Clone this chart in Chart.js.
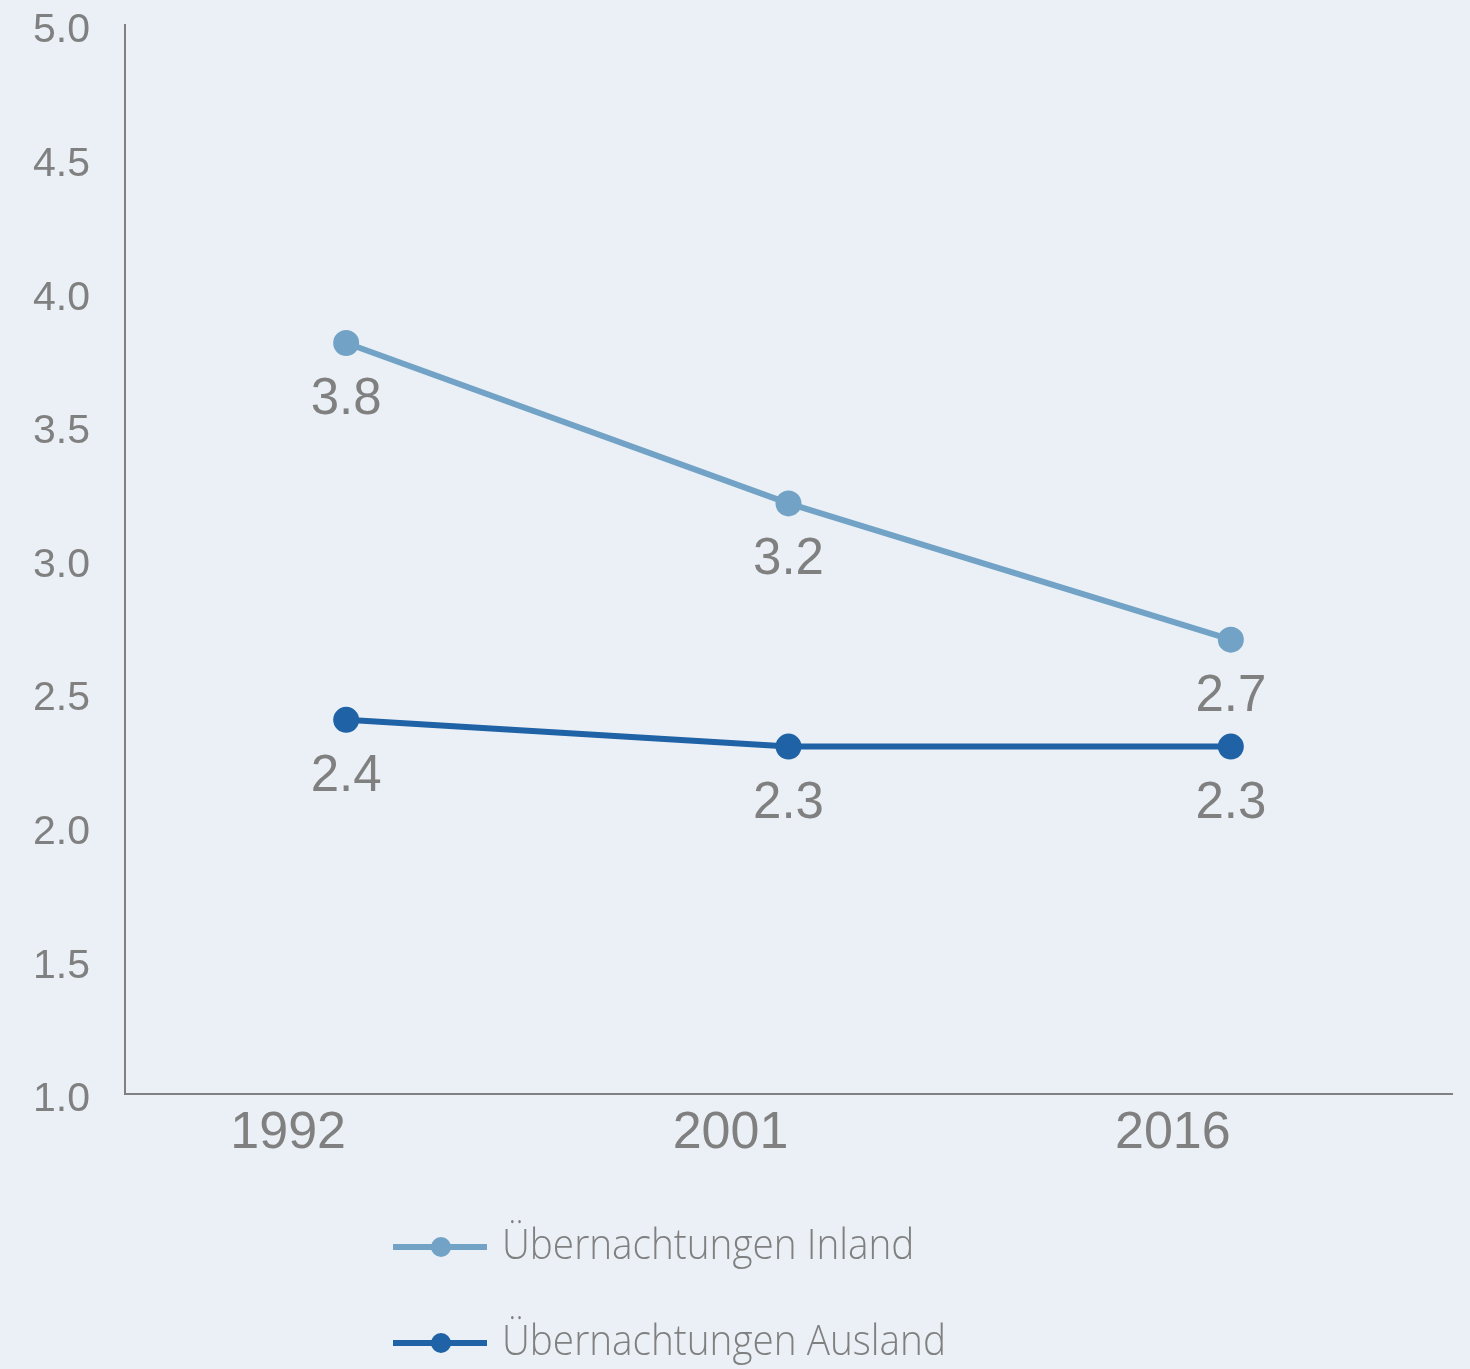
<!DOCTYPE html>
<html>
<head>
<meta charset="utf-8">
<script src="https://cdn.jsdelivr.net/npm/chart.js@4/dist/chart.umd.min.js"></script>
<style>
  html, body { margin: 0; padding: 0; background: #eaf0f5; }
  #wrap { width: 1470px; height: 1369px; }
</style>
</head>
<body>
<div id="wrap"><canvas id="myChart" width="1470" height="1369"></canvas></div>
<script>
const years = ["1992", "2001", "2016"];
const inland = [3.81, 3.21, 2.70];
const ausland = [2.40, 2.30, 2.30];
const inlandLabels = ["3.8", "3.2", "2.7"];
const auslandLabels = ["2.4", "2.3", "2.3"];
const yTicks = [1.0, 1.5, 2.0, 2.5, 3.0, 3.5, 4.0, 4.5, 5.0];

const grey = "#808080";

// labels under each point
const valueLabels = {
  id: "valueLabels",
  afterDatasetsDraw(chart) {
    const ctx = chart.ctx;
    ctx.save();
    ctx.fillStyle = grey;
    ctx.font = "51px 'Liberation Sans', Arial, sans-serif";
    ctx.textAlign = "center";
    ctx.textBaseline = "middle";
    chart.data.datasets.forEach((ds, i) => {
      chart.getDatasetMeta(i).data.forEach((pt, j) => {
        ctx.fillText(ds.valueLabels[j], pt.x, pt.y + 57);
      });
    });
    ctx.restore();
  }
};

// legend drawn as two stacked rows
const stackedLegend = {
  id: "stackedLegend",
  afterDraw(chart) {
    const ctx = chart.ctx;
    ctx.save();
    chart.data.datasets.forEach((ds, i) => {
      const y = 1247 + i * 96;
      ctx.strokeStyle = ds.borderColor;
      ctx.lineWidth = 6;
      ctx.beginPath();
      ctx.moveTo(393, y);
      ctx.lineTo(487, y);
      ctx.stroke();
      ctx.fillStyle = ds.borderColor;
      ctx.beginPath();
      ctx.arc(441, y, 10, 0, Math.PI * 2);
      ctx.fill();
      // narrow-looking text
      ctx.save();
      ctx.translate(502, y);
      ctx.scale(0.9, 1);
      ctx.fillStyle = grey;
      ctx.font = "300 43px 'Open Sans', sans-serif";
      ctx.textBaseline = "middle";
      ctx.textAlign = "left";
      ctx.fillText(ds.label, 0, 0);
      ctx.restore();
    });
    ctx.restore();
  }
};

new Chart(document.getElementById("myChart").getContext("2d"), {
  type: "line",
  data: {
    labels: years,
    datasets: [
      {
        label: "Übernachtungen Inland",
        data: inland,
        valueLabels: inlandLabels,
        borderColor: "#72a3c6",
        backgroundColor: "#72a3c6",
        borderWidth: 6,
        pointRadius: 10,
        pointHoverRadius: 10
      },
      {
        label: "Übernachtungen Ausland",
        data: ausland,
        valueLabels: auslandLabels,
        borderColor: "#1f62a5",
        backgroundColor: "#1f62a5",
        borderWidth: 6,
        pointRadius: 10,
        pointHoverRadius: 10
      }
    ]
  },
  options: {
    responsive: false,
    animation: false,
    layout: { padding: { top: 25, right: 18, bottom: 195, left: 0 } },
    plugins: {
      legend: { display: false },
      tooltip: { enabled: false }
    },
    scales: {
      x: {
        offset: true,
        grid: { display: false, drawTicks: false },
        border: { color: "#808080", width: 2 },
        afterFit(scale) { scale.height = 80; scale.paddingLeft = 0; scale.paddingRight = 0; },
        ticks: {
          color: grey,
          padding: 8,
          labelOffset: -58,
          maxRotation: 0,
          font: { family: "'Liberation Sans', Arial, sans-serif", size: 52 }
        }
      },
      y: {
        min: 1,
        max: 5,
        afterBuildTicks(scale) { scale.ticks = yTicks.map(v => ({ value: v })); },
        afterFit(scale) { scale.width = 125; scale.paddingTop = 0; scale.paddingBottom = 0; },
        grid: { display: false, drawTicks: false },
        border: { color: "#808080", width: 2 },
        ticks: {
          color: grey,
          padding: 35,
          labelOffset: 6,
          callback: v => v.toFixed(1),
          font: { family: "'Liberation Sans', Arial, sans-serif", size: 41 }
        }
      }
    }
  },
  plugins: [valueLabels, stackedLegend]
});
</script>
</body>
</html>
